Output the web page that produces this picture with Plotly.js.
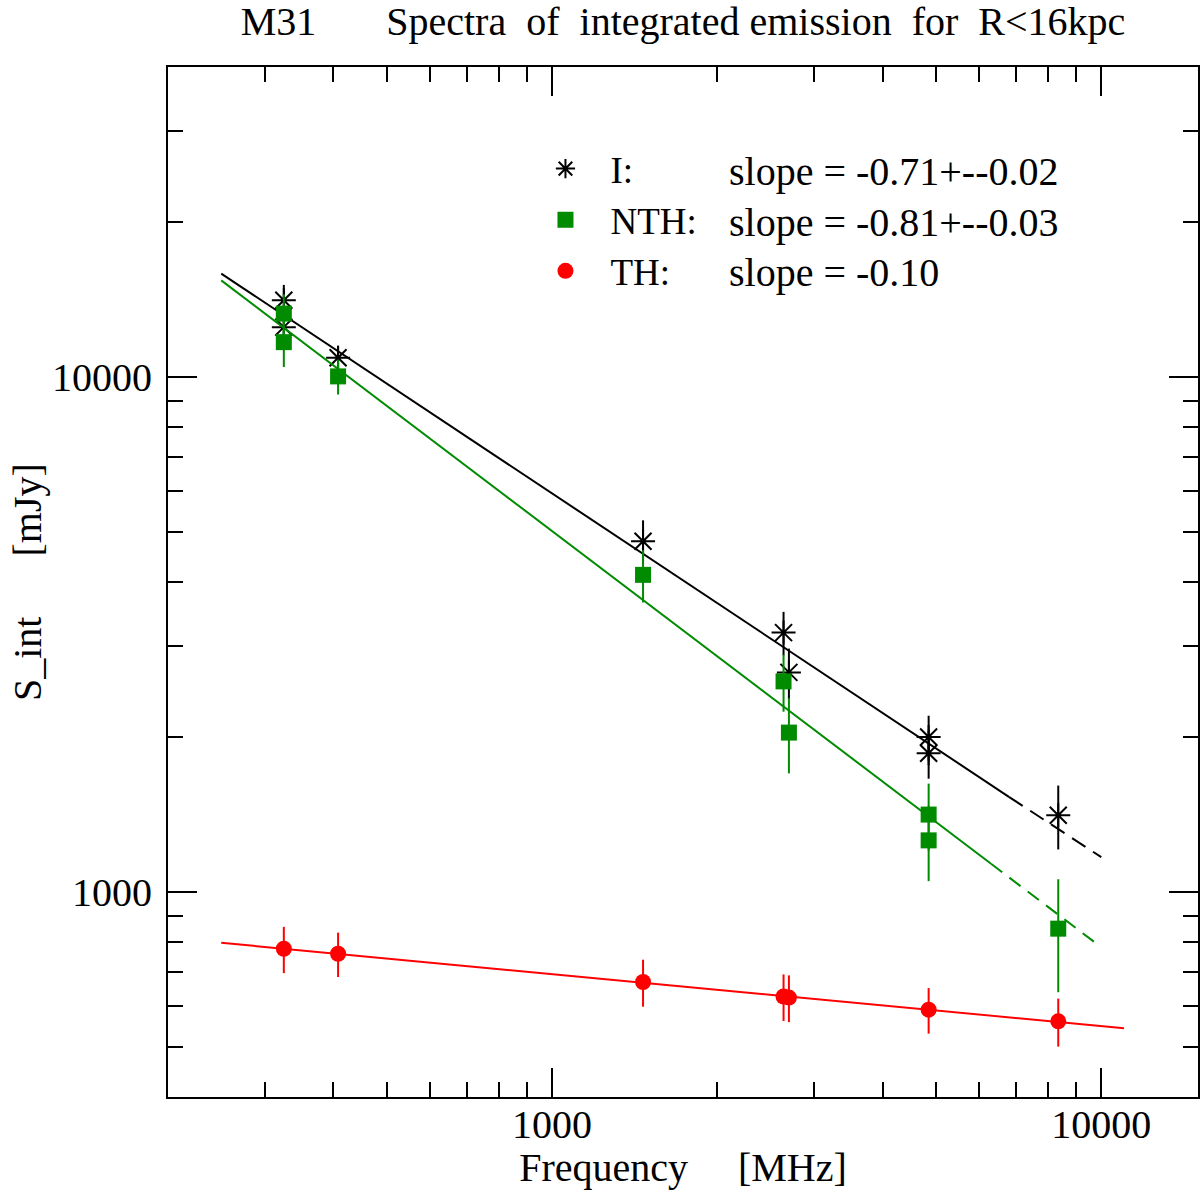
<!DOCTYPE html>
<html>
<head>
<meta charset="utf-8">
<script src="https://cdn.plot.ly/plotly-3.0.1.min.js"></script>
<style>
  html, body { margin: 0; padding: 0; background: white; }
  #chart { width: 1200px; height: 1190px; }
</style>
</head>
<body>
<div id="chart"></div>
<script>
// total intensity (I), non-thermal (NTH) and thermal (TH) integrated flux, mJy
var freq_I = [325, 325, 408, 1465, 2640, 2700, 4850, 4850, 8350];
var flux_I = [14100, 12500, 10900, 4800, 3190, 2670, 2000, 1860, 1410];
var err_I = [1000, 900, 600, 470, 310, 300, 200, 200, 200];

var freq_NTH = [325, 325, 408, 1465, 2640, 2700, 4850, 4850, 8350];
var flux_NTH = [13280, 11690, 10030, 4130, 2565, 2040, 1414, 1260, 849];
var err_NTH = [1200, 1230, 780, 480, 325, 340, 210, 210, 210];

var freq_TH = [325, 408, 1465, 2640, 2700, 4850, 8350];
var flux_TH = [776, 759, 669, 627, 624, 591, 561];
var err_TH = [80, 75, 70, 65, 65, 60, 60];

// fitted power laws: solid part, then dashed extrapolation
var fitI_freq = [250, 6800], fitI_flux = [15880, 1529];
var fitI_ext_freq = [6800, 10000], fitI_ext_flux = [1529, 1169];
var fitNTH_freq = [250, 6300], fitNTH_flux = [15410, 1135];
var fitNTH_ext_freq = [6300, 9850], fitNTH_ext_flux = [1135, 791];
var fitTH_freq = [250, 11000], fitTH_flux = [797, 544];

var slope_text = ['slope = -0.71+--0.02', 'slope = -0.81+--0.03', 'slope = -0.10'];

var black = '#000000';
var green = '#008b00';
var red = '#ff0000';
var fnt = 'Liberation Serif, Times New Roman, serif';
var nb = '\u00A0';
function sp(n) { return nb.repeat(n); }

function fitLine(x, y, color, dash) {
  return {
    x: x, y: y, type: 'scatter', mode: 'lines',
    line: {color: color, width: 2, dash: dash},
    hoverinfo: 'skip', showlegend: false
  };
}

var data = [
  fitLine(fitI_freq, fitI_flux, black, 'solid'),
  fitLine(fitI_ext_freq, fitI_ext_flux, black, '16px,9px'),
  {
    x: freq_I, y: flux_I, name: 'I:', type: 'scatter', mode: 'markers',
    marker: {symbol: 'asterisk-open', size: 20, color: black, line: {color: black, width: 2}},
    error_y: {type: 'data', array: err_I, visible: true, color: black, thickness: 2, width: 0}
  },
  fitLine(fitNTH_freq, fitNTH_flux, green, 'solid'),
  fitLine(fitNTH_ext_freq, fitNTH_ext_flux, green, '14px,9px'),
  {
    x: freq_NTH, y: flux_NTH, name: 'NTH:', type: 'scatter', mode: 'markers',
    marker: {symbol: 'square', size: 16, color: green},
    error_y: {type: 'data', array: err_NTH, visible: true, color: green, thickness: 2, width: 0}
  },
  fitLine(fitTH_freq, fitTH_flux, red, 'solid'),
  {
    x: freq_TH, y: flux_TH, name: 'TH:', type: 'scatter', mode: 'markers',
    marker: {symbol: 'circle', size: 16, color: red},
    error_y: {type: 'data', array: err_TH, visible: true, color: red, thickness: 2, width: 0}
  }
];

var slopeRows = [0.899, 0.8495, 0.800];
var annotations = slope_text.map(function (t, i) {
  return {
    xref: 'paper', yref: 'paper', x: 0.5427, y: slopeRows[i],
    xanchor: 'left', yanchor: 'middle', showarrow: false,
    text: t, font: {family: fnt, size: 40, color: black}
  };
});
// y axis title, placed by hand so it can sit close to the page edge
annotations.push({
  xref: 'paper', yref: 'paper', x: 0, y: 0.5, xshift: -141,
  xanchor: 'center', yanchor: 'middle', textangle: -90, showarrow: false,
  text: 'S_int' + sp(6) + '[mJy]', font: {family: fnt, size: 40, color: black}
});

var axisCommon = {
  type: 'log',
  showgrid: false,
  zeroline: false,
  showline: true,
  linecolor: black,
  linewidth: 2,
  mirror: 'ticks',
  ticks: 'inside',
  ticklen: 29,
  tickwidth: 2,
  tickcolor: black,
  tickmode: 'array',
  tickfont: {family: fnt, size: 40, color: black}
};

var layout = {
  width: 1200,
  height: 1190,
  paper_bgcolor: 'white',
  plot_bgcolor: 'white',
  margin: {l: 168, r: 2, t: 67, b: 93, pad: 0},
  title: {
    text: 'M31' + sp(7) + 'Spectra' + sp(2) + 'of' + sp(2) + 'integrated emission' + sp(2) + 'for' + sp(2) + 'R<16kpc',
    font: {family: fnt, size: 40, color: black},
    xref: 'paper', x: 0.5, xanchor: 'center',
    yref: 'container', y: 0.982, yanchor: 'middle'
  },
  xaxis: Object.assign({}, axisCommon, {
    range: [Math.log10(200), Math.log10(15000)],
    tickvals: [1000, 10000],
    ticktext: ['1000', '10000'],
    ticklabelstandoff: -9,
    minor: {
      ticks: 'inside', ticklen: 15, tickwidth: 2, tickcolor: black,
      tickvals: [300, 400, 500, 600, 700, 800, 900, 2000, 3000, 4000, 5000, 6000, 7000, 8000, 9000]
    },
    title: {text: 'Frequency' + sp(5) + '[MHz]', font: {family: fnt, size: 40, color: black}, standoff: 2}
  }),
  yaxis: Object.assign({}, axisCommon, {
    range: [Math.log10(400), Math.log10(40000)],
    tickvals: [1000, 10000],
    ticktext: ['1000', '10000'],
    ticklabelstandoff: 6,
    minor: {
      ticks: 'inside', ticklen: 15, tickwidth: 2, tickcolor: black,
      tickvals: [500, 600, 700, 800, 900, 2000, 3000, 4000, 5000, 6000, 7000, 8000, 9000, 20000, 30000]
    }
  }),
  showlegend: true,
  legend: {
    x: 0.3422, y: 0.931, xanchor: 'left', yanchor: 'top',
    bgcolor: 'rgba(0,0,0,0)', borderwidth: 0,
    font: {family: fnt, size: 37, color: black},
    itemsizing: 'trace', itemwidth: 80, traceorder: 'normal'
  },
  annotations: annotations
};

Plotly.newPlot('chart', data, layout, {displayModeBar: false, staticPlot: true});
</script>
</body>
</html>
